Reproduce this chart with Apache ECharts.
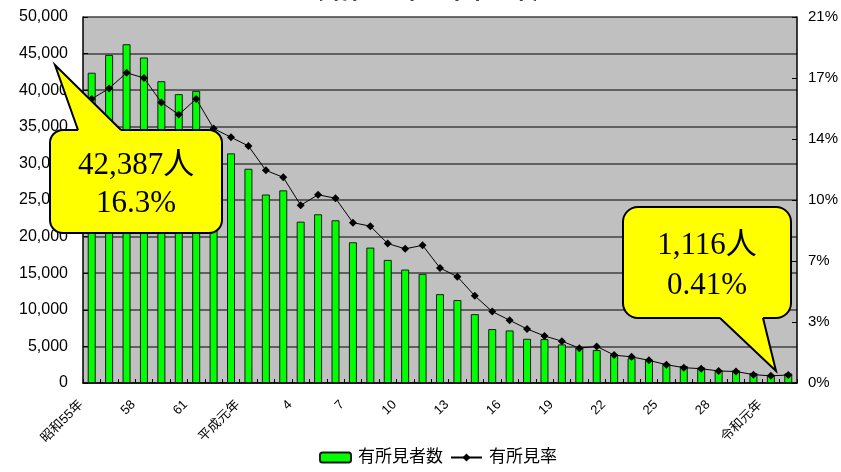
<!DOCTYPE html>
<html>
<head>
<meta charset="utf-8">
<script src="https://cdn.jsdelivr.net/npm/echarts@6/dist/echarts.min.js"></script>
<style>
  html, body { margin: 0; padding: 0; background: #fff; }
  #chart { width: 841px; height: 472px; }
</style>
</head>
<body>
<div id="chart"></div>
<script>
// 年次（昭和55年～令和2年）
const years = [
  '昭和55年', '56', '57', '58', '59', '60', '61', '62', '63',
  '平成元年', '2', '3', '4', '5', '6', '7', '8', '9', '10', '11', '12',
  '13', '14', '15', '16', '17', '18', '19', '20', '21', '22', '23', '24',
  '25', '26', '27', '28', '29', '30', '令和元年', '2'
];

// 有所見者数（人）
const findingCounts = [
  42387, 44820, 46280, 44470, 41230, 39460, 39910, 34300, 31370,
  29270, 25750, 26320, 22040, 23050, 22230, 19230, 18500, 16820, 15500, 14910, 12140,
  11340, 9410, 7370, 7180, 6040, 6000, 5270, 4820, 4500, 3900, 3380, 3180,
  2630, 2320, 2130, 1770, 1720, 1360, 1116, 1300
];

// 有所見率（%）
const findingRates = [
  16.3, 16.9, 17.8, 17.5, 16.1, 15.4, 16.3, 14.6, 14.1,
  13.6, 12.2, 11.8, 10.2, 10.8, 10.6, 9.2, 9.0, 8.0, 7.7, 7.9, 6.6,
  6.1, 5.0, 4.1, 3.6, 3.1, 2.7, 2.4, 2.0, 2.1, 1.6, 1.5, 1.3,
  1.05, 0.88, 0.82, 0.69, 0.66, 0.48, 0.41, 0.46
];

// 右軸の目盛ラベル（3.5%刻み）
const rateTickLabels = ['0%', '3%', '7%', '10%', '14%', '17%', '21%'];

const titleText = '（昭和55年～令和2年）';
const firstNote = ['42,387人', '16.3%'];
const lastNote = ['1,116人', '0.41%'];

const sansFont = "'Liberation Sans', 'Noto Sans CJK JP', sans-serif";
const serifFont = "'Liberation Serif', 'Noto Sans CJK JP', serif";

function withComma(v) {
  return String(v).replace(/\B(?=(\d{3})+(?!\d))/g, ',');
}

// 吹き出し（角丸の枠＋しっぽ）
function balloon(box, tail, lines, lineY, centerX) {
  const els = [];
  els.push({
    type: 'rect', z: 100,
    shape: { x: box.x, y: box.y, width: box.w, height: box.h, r: box.r },
    style: { fill: '#FFFF00', stroke: '#000', lineWidth: 2 }
  });
  els.push({
    type: 'polygon', z: 101,
    shape: { points: tail.fill },
    style: { fill: '#FFFF00', stroke: null }
  });
  els.push({
    type: 'polyline', z: 102,
    shape: { points: tail.edge },
    style: { fill: null, stroke: '#000', lineWidth: 2 }
  });
  lines.forEach((t, i) => {
    els.push({
      type: 'text', z: 103,
      x: centerX, y: lineY[i],
      style: {
        text: t, fill: '#000', font: '31px ' + serifFont,
        align: 'center', verticalAlign: 'middle'
      }
    });
  });
  return els;
}

const chart = echarts.init(document.getElementById('chart'), null, { renderer: 'canvas' });

const graphics = [].concat(
  [{
    type: 'text', z: 100, x: 428, y: 3,
    style: {
      text: titleText, fill: '#000', font: 'bold 24px ' + sansFont,
      align: 'center', verticalAlign: 'bottom'
    }
  }],
  balloon(
    { x: 50, y: 130, w: 172, h: 103, r: 13 },
    {
      fill: [[79, 134], [78, 130], [55, 65], [121, 130], [120, 134]],
      edge: [[78, 130], [55, 65], [121, 130]]
    },
    firstNote, [166, 204], 136
  ),
  balloon(
    { x: 623, y: 207, w: 168, h: 111, r: 15 },
    {
      fill: [[721, 314], [720, 318], [776, 371], [763, 318], [762, 314]],
      edge: [[720, 318], [776, 371], [763, 318]]
    },
    lastNote, [246, 286], 707
  )
);

chart.setOption({
  animation: false,
  backgroundColor: '#fff',
  textStyle: { fontFamily: sansFont },
  grid: {
    left: 83, right: 43, top: 17, bottom: 89,
    show: true, backgroundColor: '#C0C0C0', borderWidth: 0
  },
  legend: {
    bottom: 1, left: 314,
    itemWidth: 31, itemHeight: 10, itemGap: 7,
    textStyle: { fontSize: 17, color: '#000', fontFamily: sansFont, padding: [0, 0, 0, 2] },
    data: ['有所見者数', '有所見率']
  },
  xAxis: {
    type: 'category',
    data: years,
    boundaryGap: true,
    axisLine: { show: true, lineStyle: { color: '#000', width: 1.5 } },
    axisTick: { show: true, inside: true, length: 4, interval: 0, lineStyle: { color: '#000' } },
    axisLabel: {
      interval: 2, rotate: 45, fontSize: 13, color: '#000', margin: 9,
      padding: [0, 15, 0, 0], fontFamily: sansFont
    },
    splitLine: { show: false }
  },
  yAxis: [
    {
      type: 'value', min: 0, max: 50000, interval: 5000,
      axisLine: { show: true, lineStyle: { color: '#000', width: 1.5 } },
      axisTick: { show: true, inside: true, length: 5, lineStyle: { color: '#000' } },
      axisLabel: { fontSize: 16, color: '#000', margin: 15, formatter: withComma },
      splitLine: { show: true, lineStyle: { color: '#404040', width: 1.5 } }
    },
    {
      type: 'value', min: 0, max: 21, interval: 3.5,
      position: 'right',
      axisLine: { show: true, lineStyle: { color: '#000', width: 1.5 } },
      axisTick: { show: true, inside: true, length: 5, lineStyle: { color: '#000' } },
      axisLabel: {
        fontSize: 15, color: '#000', margin: 11,
        formatter: v => rateTickLabels[Math.round(v / 3.5)]
      },
      splitLine: { show: false }
    }
  ],
  series: [
    {
      name: '有所見者数',
      type: 'bar',
      data: findingCounts,
      barWidth: 8,
      itemStyle: { color: '#00FF00', borderColor: '#1a1a1a', borderWidth: 1 }
    },
    {
      name: '有所見率',
      type: 'line',
      yAxisIndex: 1,
      data: findingRates,
      symbol: 'diamond',
      symbolSize: 8,
      showAllSymbol: true,
      itemStyle: { color: '#000' },
      lineStyle: { color: '#000', width: 1 }
    }
  ],
  graphic: { elements: graphics }
});
</script>
</body>
</html>
